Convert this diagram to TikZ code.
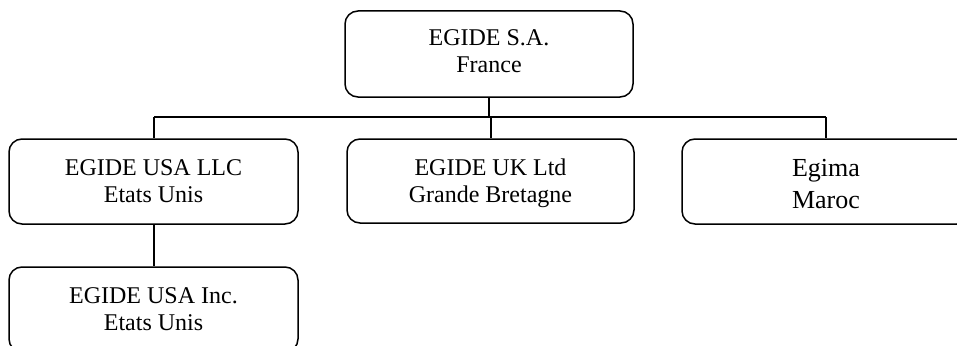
\documentclass[tikz,border=0pt]{standalone}
\usepackage{fontspec}
\setmainfont{Liberation Serif}
\begin{document}
\begin{tikzpicture}[x=1pt,y=-1pt,
  orgbox/.style={draw, line width=1.5pt, rounded corners=13pt, inner sep=0pt,
    align=center, font=\fontsize{24}{27}\selectfont,
    minimum width=288pt, minimum height=85pt},
  boxtext/.style={align=center, inner sep=0pt, font=\fontsize{24}{27}\selectfont},
  bigtext/.style={align=center, inner sep=0pt, font=\fontsize{26}{32}\selectfont},
  link/.style={line width=2pt}]
\useasboundingbox (0,0) rectangle (957,345);
\clip (0,0) rectangle (957,345);
\node[orgbox, minimum height=86pt,
  label={[boxtext, yshift=2.5pt]center:EGIDE S.A.\\France}] (sa) at (489,54) {};
\node[orgbox, minimum width=289pt] (llc) at (153.5,181.5) {EGIDE USA LLC\\Etats Unis};
\node[orgbox, minimum width=287pt, minimum height=84pt,
  label={[boxtext, yshift=-2pt]center:EGIDE UK Ltd\\Grande Bretagne}] (uk) at (490.5,181) {};
\node[orgbox,
  label={[bigtext, yshift=-3pt]center:Egima\\Maroc}] (egima) at (826,181.5) {};
\node[orgbox, minimum width=289pt] (inc) at (153.5,309.5) {EGIDE USA Inc.\\Etats Unis};
\coordinate (busL) at (154,117);
\coordinate (busR) at (826,117);
\draw[link] (sa.south) -- (sa.south |- busL);
\draw[link] (busL) -- (busR);
\draw[link] (busL) -- (llc.north -| busL);
\draw[link] (uk.north |- busL) -- (uk.north);
\draw[link] (busR) -- (egima.north -| busR);
\draw[link] (llc.south -| busL) -- (inc.north -| busL);
\end{tikzpicture}
\end{document}
